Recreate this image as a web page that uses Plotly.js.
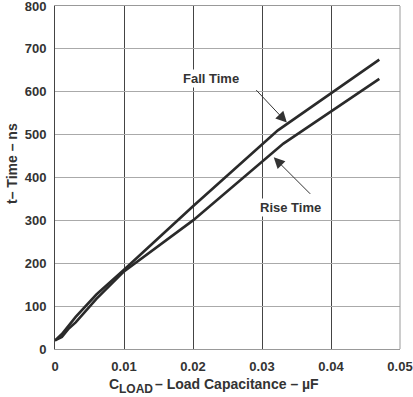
<!DOCTYPE html>
<html>
<head>
<meta charset="utf-8">
<script src="https://cdn.plot.ly/plotly-3.0.1.min.js"></script>
<style>html,body{margin:0;padding:0;background:#fff;}#chart{width:413px;height:397px;}</style>
</head>
<body>
<div id="chart"></div>
<script>
// Data
const fallX = [0, 0.001, 0.003, 0.006, 0.01, 0.02, 0.0323, 0.047];
const fallY = [20, 35, 75, 127, 185, 333, 510, 675];
const riseX = [0, 0.001, 0.002, 0.003, 0.006, 0.01, 0.02, 0.0331, 0.047];
const riseY = [20, 28, 48, 62, 117, 181, 300, 479, 630];
const xTicks = [0, 0.01, 0.02, 0.03, 0.04, 0.05];
const xTickText = ['0', '0.01', '0.02', '0.03', '0.04', '0.05'];
const yTicks = [0, 100, 200, 300, 400, 500, 600, 700, 800];
const labels = ['Fall Time', 'Rise Time'];
const yTitle = 't– Time – ns';
const xTitleParts = ['C', 'LOAD', '– Load Capacitance – µF'];

const F = 'Liberation Sans, Arial, sans-serif';
const lineStyle = {color: '#2a2a2a', width: 2.6};
const tf = {family: F, size: 13, weight: 700, color: '#333'};
const ttf = {family: F, size: 14, weight: 700, color: '#333'};
const subf = {family: F, size: 12, weight: 700, color: '#333'};

const traces = [
  {x: fallX, y: fallY, mode: 'lines', line: lineStyle, name: labels[0], hoverinfo: 'skip'},
  {x: riseX, y: riseY, mode: 'lines', line: lineStyle, name: labels[1], hoverinfo: 'skip'}
];

// pixel -> paper helpers (plot area: x 55..400, y 6..349)
const px = v => (v - 55) / 345;
const py = v => (349 - v) / 343;

const layout = {
  width: 413, height: 397,
  margin: {l: 55, r: 13, t: 6, b: 48},
  paper_bgcolor: '#fff', plot_bgcolor: '#fff',
  showlegend: false,
  font: {family: F, color: '#333'},
  xaxis: {
    range: [0, 0.05], tickvals: xTicks, ticktext: xTickText,
    showgrid: true, gridcolor: '#444', gridwidth: 1, zeroline: false,
    showline: true, linecolor: '#999', linewidth: 1, mirror: true,
    ticks: '', tickfont: tf, ticklabelstandoff: 5, ticklabeloverflow: 'allow'
  },
  yaxis: {
    range: [0, 800], tickvals: yTicks,
    showgrid: true, gridcolor: '#aaa', gridwidth: 1, zeroline: false,
    showline: true, linecolor: '#444', linewidth: 1,
    ticks: '', tickfont: tf, ticklabelstandoff: 5, ticklabeloverflow: 'allow'
  },
  shapes: [
    {type: 'line', xref: 'paper', yref: 'paper', x0: 1, x1: 1, y0: 0, y1: 1, line: {color: '#999', width: 1}}
  ],
  annotations: [
    {x: 0.0226, y: 632, text: labels[0], showarrow: false, bgcolor: '#fff', font: tf},
    {x: 0.0342, y: 331, text: labels[1], showarrow: false, bgcolor: '#fff', font: tf},
    {x: 0.0336, y: 528, text: '', showarrow: true, ax: -32, ay: -34,
     arrowhead: 2, arrowsize: 2.2, arrowwidth: 1, arrowcolor: '#333'},
    {x: 0.0317, y: 447, text: '', showarrow: true, ax: 38, ay: 38,
     arrowhead: 2, arrowsize: 2.2, arrowwidth: 1, arrowcolor: '#333'},
    // y axis title
    {xref: 'paper', yref: 'paper', x: px(12), y: py(164), xanchor: 'center', yanchor: 'middle',
     text: yTitle, textangle: -90, showarrow: false, font: ttf},
    // x axis title
    {xref: 'paper', yref: 'paper', x: px(108), y: py(384), xanchor: 'left', yanchor: 'middle',
     text: xTitleParts[0], showarrow: false, font: ttf, borderpad: 0},
    {xref: 'paper', yref: 'paper', x: px(118), y: py(389), xanchor: 'left', yanchor: 'middle',
     text: xTitleParts[1], showarrow: false, font: subf, borderpad: 0},
    {xref: 'paper', yref: 'paper', x: px(154), y: py(384), xanchor: 'left', yanchor: 'middle',
     text: xTitleParts[2], showarrow: false, font: ttf, borderpad: 0}
  ]
};

Plotly.newPlot('chart', traces, layout, {displayModeBar: false, staticPlot: true});
</script>
</body>
</html>
